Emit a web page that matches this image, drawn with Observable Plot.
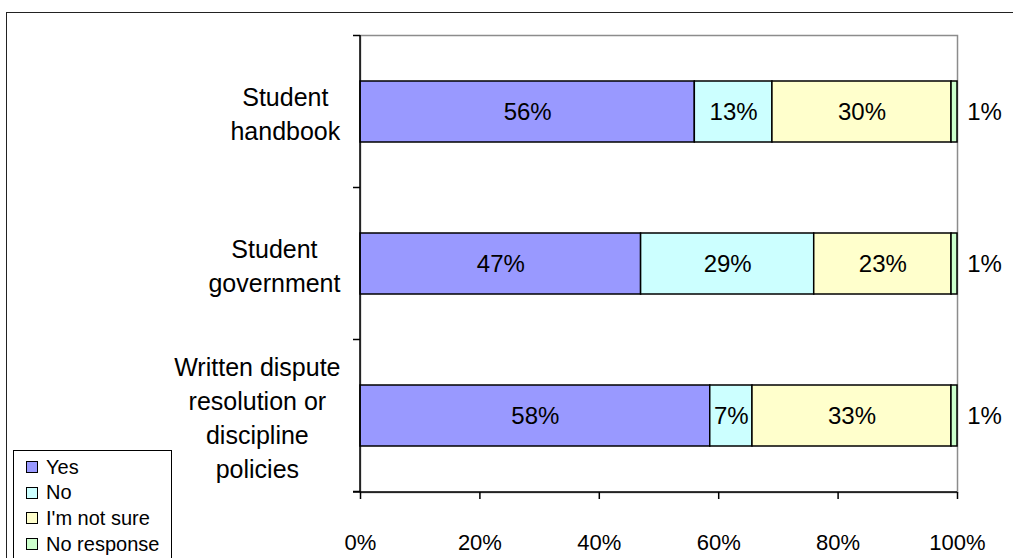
<!DOCTYPE html>
<html>
<head>
<meta charset="utf-8">
<script src="https://cdn.jsdelivr.net/npm/d3@7"></script>
<script src="https://cdn.jsdelivr.net/npm/@observablehq/plot@0.6"></script>
<style>
  html, body { margin: 0; padding: 0; background: #fff; }
  #wrap { position: relative; width: 1013px; height: 558px; overflow: hidden; font-family: "Liberation Sans", Arial, sans-serif; }
  #outer { position: absolute; left: 6px; top: 12px; width: 1100px; height: 600px; border: 1.5px solid #222; box-sizing: border-box; }
  #chart { position: absolute; left: 0; top: 0; }
  #legend { position: absolute; left: 13px; top: 450px; width: 159px; height: 130px; border: 1px solid #000; background: #fff; box-sizing: border-box; }
  .li { position: absolute; left: 12px; height: 24px; display: flex; align-items: center; font-size: 20px; color: #000; white-space: nowrap; }
  .sw { width: 10px; height: 10px; border: 1px solid #000; margin-right: 8px; flex: none; }
</style>
</head>
<body>
<div id="wrap">
  <div id="outer"></div>
  <div id="chart"></div>
  <div id="legend"></div>
</div>
<script>
// ---- data ----
const categories = ["Student handbook", "Student government", "Written dispute resolution or discipline policies"];
const categoryLines = ["Student\nhandbook", "Student\ngovernment", "Written dispute\nresolution or\ndiscipline\npolicies"];
const answers = ["Yes", "No", "I'm not sure", "No response"];
const yesValues = [56, 47, 58];
const noValues = [13, 29, 7];
const notSureValues = [30, 23, 33];
const noResponseValues = [1, 1, 1];
const answerColors = ["#9999FF", "#CCFFFF", "#FFFFCC", "#CCFFCC"];
const xTicks = [0, 0.2, 0.4, 0.6, 0.8, 1];
const xTickLabels = ["0%", "20%", "40%", "60%", "80%", "100%"];

const series = [yesValues, noValues, notSureValues, noResponseValues];
const data = [];
categories.forEach((c, i) => {
  answers.forEach((a, j) => data.push({category: c, answer: a, value: series[j][i]}));
});
const labelOf = Object.fromEntries(categories.map((c, i) => [c, categoryLines[i]]));

const stackOpts = {x: "value", y: "category", z: "answer", order: answers, offset: "normalize"};

const axisLines = (index, scales, values, dimensions) => {
  const {width, height, marginTop, marginBottom, marginRight} = dimensions;
  const g = d3.create("svg:g");
  const x0 = scales.x(0);
  const yb = height - marginBottom;
  const step = scales.y.step ? scales.y.step() : (scales.y.bandwidth() / 0.4);
  const bw = scales.y.bandwidth();
  const bounds = categories.map(c => scales.y(c) - (step - bw) / 2);
  bounds.push(scales.y(categories[categories.length - 1]) + bw + (step - bw) / 2);
  g.append("line").attr("x1", x0).attr("x2", x0).attr("y1", marginTop).attr("y2", yb).attr("stroke", "#000").attr("stroke-width", 1.5);
  g.append("line").attr("x1", x0 - 7).attr("x2", width - marginRight).attr("y1", yb).attr("y2", yb).attr("stroke", "#000").attr("stroke-width", 1.5);
  bounds.forEach(b => {
    g.append("line").attr("x1", x0 - 7).attr("x2", x0).attr("y1", b).attr("y2", b).attr("stroke", "#000").attr("stroke-width", 1.5);
  });
  return g.node();
};

const plot = Plot.plot({
  width: 1013,
  height: 558,
  marginLeft: 360,
  marginRight: 56,
  marginTop: 35,
  marginBottom: 66,
  style: {fontFamily: "'Liberation Sans', Arial, sans-serif", background: "transparent", color: "#000"},
  x: {domain: [0, 1], label: null},
  y: {domain: categories, paddingInner: 0.6, paddingOuter: 0.3, label: null},
  color: {domain: answers, range: answerColors},
  marks: [
    Plot.frame({stroke: "#8c8c8c", strokeWidth: 1.5}),
    Plot.barX(data, Plot.stackX({...stackOpts, fill: "answer", stroke: "#000", strokeWidth: 1.5})),
    Plot.text(data, Plot.stackX({...stackOpts, text: d => d.answer === "No response" ? null : d.value + "%", fontSize: 24, fill: "#000"})),
    Plot.text(data.filter(d => d.answer === "No response"), {y: "category", frameAnchor: "right", textAnchor: "middle", dx: 27, text: d => d.value + "%", fontSize: 24, fill: "#000"}),
    axisLines,
    Plot.axisX({ticks: xTicks, tickFormat: d => xTickLabels[xTicks.indexOf(d)], tickSize: 7, tickPadding: 35, fontSize: 22, stroke: "#000", strokeWidth: 1.5, label: null}),
    Plot.axisY({tickSize: 0, tickPadding: 20, tickFormat: d => labelOf[d], fontSize: 25, lineHeight: 1.36, textAnchor: "end", label: null})
  ]
});
document.getElementById("chart").appendChild(plot);

// center each multi-line category label within its own block, right-aligned block
d3.select(plot).selectAll('g[aria-label="y-axis tick label"] text').each(function() {
  const w = this.getBBox().width;
  const t = this.getAttribute("transform") || "";
  this.setAttribute("text-anchor", "middle");
  this.setAttribute("transform", t + ` translate(${-w / 2},0)`);
});

// legend
const legend = document.getElementById("legend");
answers.forEach((a, i) => {
  const row = document.createElement("div");
  row.className = "li";
  row.style.top = (4 + i * 25.7) + "px";
  const sw = document.createElement("div");
  sw.className = "sw";
  sw.style.background = answerColors[i];
  row.appendChild(sw);
  row.appendChild(document.createTextNode(a));
  legend.appendChild(row);
});
</script>
</body>
</html>
